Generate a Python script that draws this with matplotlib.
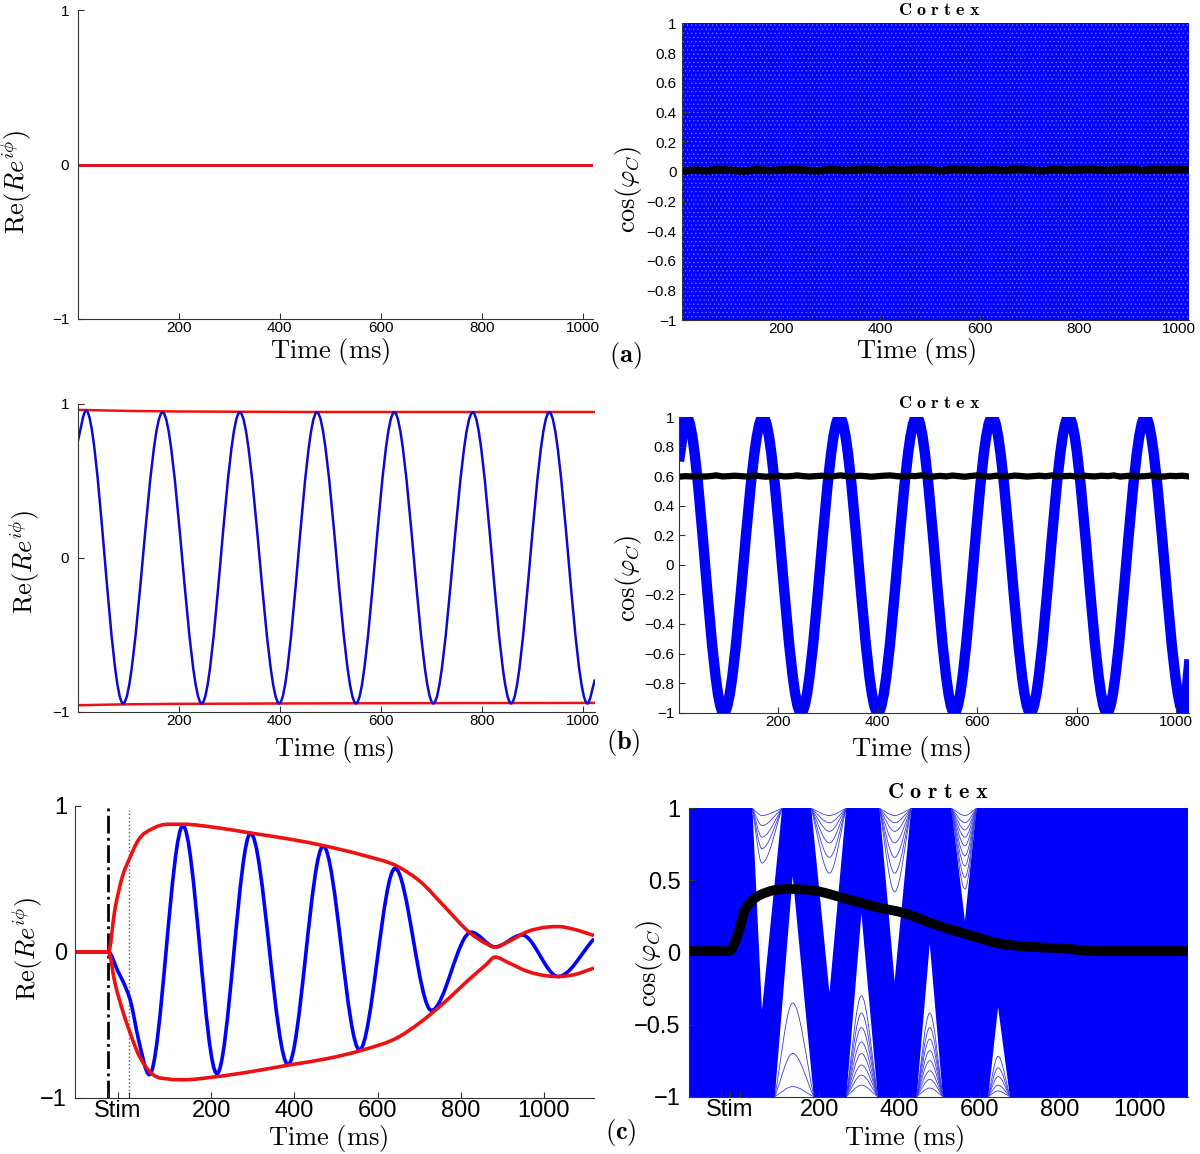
import numpy as np
import matplotlib
matplotlib.use('Agg')
import matplotlib.pyplot as plt
from matplotlib.path import Path
from matplotlib.patches import PathPatch, Polygon

plt.rcParams['mathtext.fontset'] = 'cm'
plt.rcParams['font.family'] = ['Liberation Sans', 'DejaVu Sans']
plt.rcParams['hatch.linewidth'] = 0.5

# ---------------- data ----------------
# (a) incoherent state
a_t = [0, 1020]
a_mean = [0, 0]
a_env = [0, 0]
a_band_lo = [-1, -1]
a_band_hi = [1, 1]
a_order_t = np.arange(0, 1026, 25)
a_order = [0.005, 0.012, 0.008, 0.015, 0.01, 0.006, 0.014, 0.009, 0.013, 0.018, 0.011,
           0.007, 0.016, 0.01, 0.012, 0.02, 0.009, 0.014, 0.011, 0.017, 0.013, 0.008,
           0.019, 0.012, 0.01, 0.015, 0.009, 0.021, 0.012, 0.008, 0.016, 0.011, 0.014,
           0.018, 0.01, 0.013, 0.02, 0.009, 0.016, 0.012, 0.018, 0.011]

# (b) synchronised state (extrema of the oscillation)
b_t = [0, 16.6, 90, 168, 245.5, 321, 399, 473.6, 551, 626.7, 704, 782, 858, 933.6, 1009, 1024]
b_y = [0.755, 0.957, -0.946, 0.946, -0.946, 0.946, -0.946, 0.946, -0.946, 0.946,
       -0.946, 0.946, -0.946, 0.946, -0.946, -0.79]
b_env_t = [0, 100, 300, 600, 1024]
b_env_hi = [0.962, 0.955, 0.95, 0.948, 0.948]
b_env_lo = [-0.958, -0.952, -0.948, -0.945, -0.943]
b_cos_t = [0, 15, 90, 169, 245.6, 323, 400, 478, 554, 630, 707, 784, 861, 938, 1015.5, 1027]
b_cos_y = [0.7, 1, -1, 1, -1, 1, -1, 1, -1, 1, -1, 1, -1, 1, -1, -0.64]
b_order_t = np.arange(0, 1026, 12.5)
b_order = [0.596, 0.6, 0.598, 0.603, 0.597, 0.6, 0.605, 0.598, 0.6, 0.603, 0.6, 0.597,
           0.605, 0.6, 0.596, 0.6, 0.603, 0.598, 0.6, 0.605, 0.6, 0.597, 0.6, 0.603,
           0.596, 0.6, 0.605, 0.6, 0.598, 0.603, 0.6, 0.596, 0.6, 0.603, 0.605, 0.6,
           0.597, 0.603, 0.6, 0.605, 0.6, 0.597, 0.602, 0.598, 0.604, 0.6, 0.596, 0.601,
           0.605, 0.599, 0.597, 0.603, 0.6, 0.598, 0.604, 0.601, 0.597, 0.6, 0.603, 0.599,
           0.605, 0.598, 0.6, 0.602, 0.597, 0.604, 0.6, 0.598, 0.603, 0.6, 0.605, 0.597,
           0.601, 0.603, 0.598, 0.6, 0.604, 0.599, 0.597, 0.602, 0.6, 0.603, 0.598]

# (c) stimulus response
c_t = [-127, -47.6, -25, -5, 5, 25, 51, 131.8, 213.7, 294.6, 384.8, 469.4, 556.8,
       642.3, 729.8, 825.5, 883, 947.8, 1035, 1121]
c_y = [0, 0, -0.13, -0.25, -0.33, -0.6, -0.84, 0.865, -0.833, 0.813, -0.772, 0.726,
       -0.67, 0.573, -0.40, 0.136, 0.035, 0.117, -0.168, 0.09]
c_env_t = [-127, -47.6, -32, -13.5, 4.8, 23, 60, 97, 133.6, 207, 299, 391, 474, 566,
           649, 704, 759, 823.6, 860, 883, 915.6, 961, 1007, 1035, 1072, 1121]
c_env_hi = [0, 0, 0.29, 0.52, 0.65, 0.76, 0.847, 0.875, 0.875, 0.854, 0.813, 0.772,
            0.726, 0.662, 0.585, 0.48, 0.318, 0.129, 0.06, 0.033, 0.072, 0.14, 0.17,
            0.174, 0.156, 0.113]
c_env_lo = [0, 0, -0.21, -0.40, -0.555, -0.69, -0.84, -0.87, -0.875, -0.856, -0.818,
            -0.772, -0.733, -0.67, -0.585, -0.48, -0.35, -0.18, -0.09, -0.035, -0.074,
            -0.133, -0.163, -0.168, -0.156, -0.11]
stim_on = -47.6
stim_off = 2
c_order_t = [-127, -26, -6, 13, 32, 70.5, 128, 185.7, 262.5, 339, 416, 493, 570, 647,
             723.5, 800, 896, 992.5, 1121]
c_order = [0.01, 0.01, 0.11, 0.29, 0.36, 0.42, 0.44, 0.43, 0.376, 0.318, 0.27, 0.19,
           0.126, 0.064, 0.04, 0.03, 0.01, 0.01, 0.01]
c_band_t = [-127, 1121]

# gaps (white wedges) in the cortex raster of (c)
top_gap_left = [32, 179, 350, 530]
top_gap_right = [107, 267, 430, 593]
top_gap_tip_t = [56, 225, 388, 564]
top_gap_tip_y = [-0.4, -0.28, -0.2, 0.22]
top_gap_lines = [[0.95, 0.88, 0.8, 0.72, 0.62],
                 [0.95, 0.9, 0.84, 0.76, 0.66, 0.55],
                 [0.95, 0.9, 0.84, 0.76, 0.66, 0.55, 0.42],
                 [0.95, 0.9, 0.85, 0.8, 0.74, 0.67, 0.6, 0.52, 0.44]]
bot_gap_left = [88, 267, 443, 622]
bot_gap_right = [186, 346, 509, 677]
bot_gap_tip_t = [133, 305, 476, 647]
bot_gap_tip_y = [0.53, 0.27, 0.06, -0.38]
bot_gap_lines = [[-0.35, -0.7, -0.93],
                 [-0.3, -0.42, -0.52, -0.62, -0.7, -0.78, -0.85, -0.92],
                 [-0.42, -0.52, -0.6, -0.68, -0.75, -0.82, -0.88, -0.94],
                 [-0.72, -0.8, -0.86, -0.92, -0.96]]

xticks_ab = [200, 400, 600, 800, 1000]
xticks_c = [stim_on, -25, stim_off, 200, 400, 600, 800, 1000]
xticklabels_c = ['', 'Stim', '', '200', '400', '600', '800', '1000']
yticks_left = [-1, 0, 1]
yticks_fine = [-1, -0.8, -0.6, -0.4, -0.2, 0, 0.2, 0.4, 0.6, 0.8, 1]
yticks_half = [-1, -0.5, 0, 0.5, 1]

BLUE = '#0000ff'
RED = '#ee1111'
YL_LEFT = r'$\mathrm{Re}(Re^{i\phi})$'
YL_RIGHT = r'$\cos(\varphi_C)$'
XL = r'$\mathrm{Time\ (ms)}$'
TITLE = r'$\mathbf{C\ o\ r\ t\ e\ x}$'


def smooth(t, y):
    # smooth curve through the read points (flat tangent at the extrema)
    t = np.asarray(t, float)
    y = np.asarray(y, float)
    h = np.diff(t)
    d = np.diff(y) / h
    m = np.zeros(len(t))
    m[0], m[-1] = d[0], d[-1]
    for i in range(1, len(t) - 1):
        if d[i - 1] * d[i] > 0:
            m[i] = (h[i] * d[i - 1] + h[i - 1] * d[i]) / (h[i - 1] + h[i])
    verts = [(t[0], y[0])]
    codes = [Path.MOVETO]
    for i in range(len(t) - 1):
        verts += [(t[i] + h[i] / 3, y[i] + m[i] * h[i] / 3),
                  (t[i + 1] - h[i] / 3, y[i + 1] - m[i + 1] * h[i] / 3),
                  (t[i + 1], y[i + 1])]
        codes += [Path.CURVE4] * 3
    return Path(verts, codes)


def curve(ax, t, y, **kw):
    ax.add_patch(PathPatch(smooth(t, y), fill=False, **kw))


def lab(v):
    return ('%g' % v).replace('-', '\u2212')


def pos(l, r, t, b):
    return [l / 1200, 1 - b / 1154, (r - l) / 1200, (b - t) / 1154]


def style(ax, fs, yt, xt, xtl=None, ypad=6):
    for s in ['top', 'right']:
        ax.spines[s].set_visible(False)
    for s in ['left', 'bottom']:
        ax.spines[s].set_color('#333333')
        ax.spines[s].set_linewidth(0.8)
        ax.spines[s].set_zorder(6)
    ax.set_yticks(yt)
    ax.set_yticklabels([lab(v) for v in yt])
    ax.set_xticks(xt)
    ax.set_xticklabels(xtl if xtl else [lab(v) for v in xt])
    ax.tick_params(direction='in', length=4, width=0.8, color='#333333',
                   labelsize=fs)
    ax.tick_params(axis='x', pad=1.5)
    ax.tick_params(axis='y', pad=ypad)
    ax.set_ylim(-1, 1)


def labels(ax, xl_pos, yl_pos, yl, title_pos=None, tfs=13):
    ax.text(xl_pos[0], xl_pos[1], XL, transform=ax.transAxes, ha='center',
            va='center', fontsize=19)
    ax.text(yl_pos[0], yl_pos[1], yl, transform=ax.transAxes, ha='center',
            va='center', fontsize=19, rotation=90)
    if title_pos:
        ax.text(title_pos[0], title_pos[1], TITLE, transform=ax.transAxes,
                ha='center', va='center', fontsize=tfs)


fig = plt.figure(figsize=(12, 11.54), dpi=100)

# ---- (a) left
ax = fig.add_axes(pos(77.7, 593, 10, 319))
ax.plot(a_t, a_mean, color=BLUE, lw=2)
ax.plot(a_t, a_env, color='#d81828', lw=2.2)
ax.set_xlim(0, 1020)
style(ax, 11, yticks_left, xticks_ab)
labels(ax, (0.49, -0.105), (-0.119, 0.443), YL_LEFT)

# ---- (a) right
ax = fig.add_axes(pos(681.5, 1188.6, 23.4, 320.4))
ax.fill_between(a_t, a_band_lo, a_band_hi, facecolor=BLUE, edgecolor='#6a74ff',
                hatch='....', linewidth=0, zorder=1)
ax.plot(a_order_t, a_order, color='black', lw=5.5, zorder=3)
ax.set_xlim(0, 1020)
style(ax, 11, yticks_fine, xticks_ab, ypad=3.5)
labels(ax, (0.463, -0.105), (-0.104, 0.44), YL_RIGHT, (0.508, 1.045), 13)

# ---- (b) left
ax = fig.add_axes(pos(77.7, 595, 404, 711.7))
curve(ax, b_env_t, b_env_hi, edgecolor=RED, lw=1.8)
curve(ax, b_env_t, b_env_lo, edgecolor=RED, lw=1.8)
curve(ax, b_t, b_y, edgecolor='#0a0ad0', lw=1.8)
ax.set_xlim(0, 1024)
style(ax, 11, yticks_left, xticks_ab)
labels(ax, (0.495, -0.124), (-0.102, 0.485), YL_LEFT)

# ---- (b) right
ax = fig.add_axes(pos(679, 1189, 417, 712.7))
curve(ax, b_cos_t, b_cos_y, edgecolor=BLUE, lw=7.5)
ax.plot(b_order_t, b_order, color='black', lw=4.5, zorder=4)
ax.set_xlim(0, 1026)
style(ax, 11, yticks_fine, xticks_ab, ypad=3.5)
labels(ax, (0.455, -0.124), (-0.1, 0.455), YL_RIGHT, (0.51, 1.044), 13)

# ---- (c) left
ax = fig.add_axes(pos(75.4, 594, 806, 1098))
ax.axvline(stim_on, color='black', lw=2, ls='-.', zorder=1)
ax.plot([stim_off, stim_off], [-1, 0.97], color='#555555', lw=1, ls=':', zorder=1)
curve(ax, c_t, c_y, edgecolor=BLUE, lw=2.6, zorder=2)
curve(ax, c_env_t, c_env_hi, edgecolor=RED, lw=2.6, zorder=3)
curve(ax, c_env_t, c_env_lo, edgecolor=RED, lw=2.6, zorder=3)
ax.set_xlim(-127, 1121)
style(ax, 17, yticks_left, xticks_c, xticklabels_c)
labels(ax, (0.487, -0.138), (-0.092, 0.51), YL_LEFT)

# ---- (c) right
ax = fig.add_axes(pos(688.8, 1187.5, 808.3, 1096.7))
ax.fill_between(c_band_t, [-1, -1], [1, 1], color=BLUE, lw=0, zorder=1)
for i in range(len(top_gap_left)):
    ax.add_patch(Polygon([(top_gap_left[i], 1.01), (top_gap_right[i], 1.01),
                          (top_gap_tip_t[i], top_gap_tip_y[i])],
                         closed=True, facecolor='white', lw=0, zorder=2))
    for lv in top_gap_lines[i]:
        curve(ax, [top_gap_left[i], top_gap_tip_t[i], top_gap_right[i]], [1, lv, 1],
              edgecolor='#3a3ae0', lw=0.6, zorder=3)
for i in range(len(bot_gap_left)):
    ax.add_patch(Polygon([(bot_gap_left[i], -1.01), (bot_gap_right[i], -1.01),
                          (bot_gap_tip_t[i], bot_gap_tip_y[i])],
                         closed=True, facecolor='white', lw=0, zorder=2))
    for lv in bot_gap_lines[i]:
        curve(ax, [bot_gap_left[i], bot_gap_tip_t[i], bot_gap_right[i]], [-1, lv, -1],
              edgecolor='#3a3ae0', lw=0.6, zorder=3)
curve(ax, c_order_t, c_order, edgecolor='black', lw=7, zorder=4)
ax.set_xlim(-127, 1121)
style(ax, 17, yticks_half, xticks_c, xticklabels_c)
labels(ax, (0.432, -0.144), (-0.078, 0.464), YL_RIGHT, (0.5, 1.054), 16)

# panel letters
fig.text(625 / 1200, 1 - 355 / 1154, r'$\mathbf{(a)}$', ha='center', va='center', fontsize=19)
fig.text(623 / 1200, 1 - 742 / 1154, r'$\mathbf{(b)}$', ha='center', va='center', fontsize=19)
fig.text(621 / 1200, 1 - 1133 / 1154, r'$\mathbf{(c)}$', ha='center', va='center', fontsize=19)

fig.savefig('out.png', dpi=100)
